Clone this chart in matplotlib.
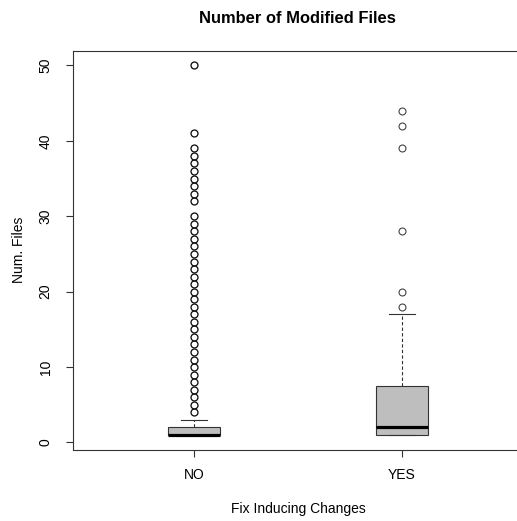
import numpy as np
import matplotlib.pyplot as plt

plt.rcParams['font.family'] = ['Liberation Sans', 'DejaVu Sans']

# box statistics per group
groups = ['NO', 'YES']
q1 = [1, 1]
medians = [1, 2]
q3 = [2, 7.5]
whislo = [1, 1]
whishi = [3, 17]
fliers_no = list(range(4, 31)) + list(range(32, 40)) + [41, 50]
fliers_yes = [18, 20, 28, 39, 42, 44]
fliers = [fliers_no, fliers_yes]

stats = []
for i, name in enumerate(groups):
    stats.append(dict(label=name, q1=q1[i], med=medians[i], q3=q3[i],
                      whislo=whislo[i], whishi=whishi[i],
                      fliers=np.array(fliers[i], dtype=float)))

fig = plt.figure(figsize=(5.17, 5.21), dpi=100)
ax = fig.add_axes([73.4 / 517, (521 - 449.7) / 521, 449 / 517, 399 / 521])

frame = '#333333'
res = ax.bxp(stats, positions=[1, 2], widths=0.25, capwidths=0.125,
             patch_artist=True,
             boxprops=dict(facecolor='#bebebe', edgecolor=frame, linewidth=0.8),
             medianprops=dict(color='black', linewidth=2.3, solid_capstyle='butt'),
             whiskerprops=dict(color=frame, linewidth=0.8, linestyle=(0, (3, 2))),
             capprops=dict(color=frame, linewidth=0.8),
             flierprops=dict(marker='o', markersize=5, markerfacecolor='none',
                             markeredgecolor='#444444', markeredgewidth=0.8))
res['fliers'][0].set_markeredgecolor('#111111')
res['fliers'][0].set_markeredgewidth(0.95)

ax.set_xlim(0.42, 2.58)
ax.set_ylim(-0.96, 51.96)

fs = 10
ax.set_yticks([0, 10, 20, 30, 40, 50])
ax.set_xticks([1, 2])
ax.set_xticklabels(groups)
ax.tick_params(axis='y', labelrotation=90, length=5, width=0.8, color=frame,
               labelsize=fs, pad=10)
ax.tick_params(axis='x', length=5, width=0.8, color=frame, labelsize=fs, pad=8.5)
for lbl in ax.get_yticklabels():
    lbl.set_verticalalignment('center')

for sp in ax.spines.values():
    sp.set_color(frame)
    sp.set_linewidth(0.8)

ax.set_ylabel('Num. Files', fontsize=fs, labelpad=9)
ax.set_xlabel('Fix Inducing Changes', fontsize=fs, labelpad=14)
ax.set_title('Number of Modified Files', fontsize=11.9, fontweight='bold', pad=20)

fig.savefig('out.png', dpi=100)
